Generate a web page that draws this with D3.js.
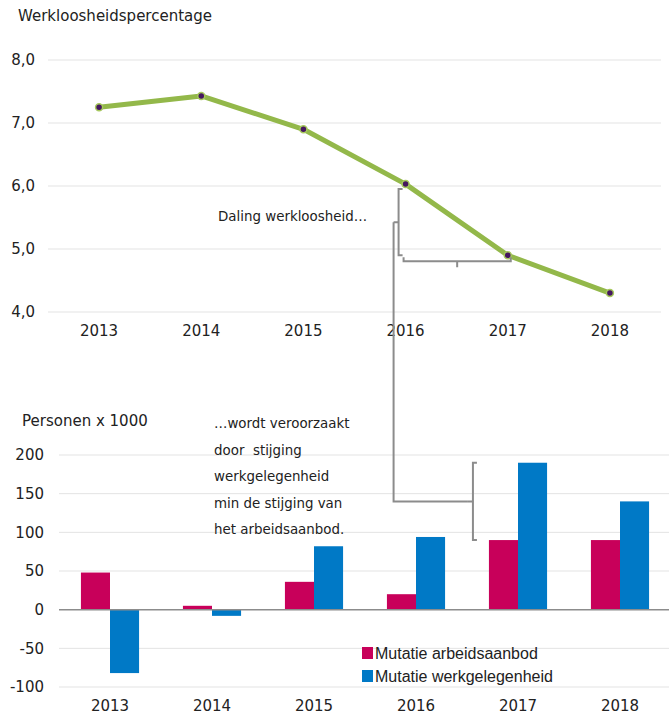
<!DOCTYPE html>
<html>
<head>
<meta charset="utf-8">
<script src="https://cdn.jsdelivr.net/npm/d3@7"></script>
<style>
  body { margin: 0; background: #fff; }
  svg { display: block; font-family: "DejaVu Sans", sans-serif; }
</style>
</head>
<body>
<svg id="chart" width="669" height="717"></svg>
<script>
// data
const years = ["2013", "2014", "2015", "2016", "2017", "2018"];
const werkloosheid = [7.25, 7.43, 6.9, 6.03, 4.9, 4.3];
const arbeidsaanbod = [48, 5, 36, 20, 90, 90];
const werkgelegenheid = [-82, -8, 82, 94, 190, 140];
const topTicks = [4, 5, 6, 7, 8];
const bottomTicks = [-100, -50, 0, 50, 100, 150, 200];
const seriesNames = ["Mutatie arbeidsaanbod", "Mutatie werkgelegenheid"];
const seriesColors = ["#c8005a", "#0079c6"];

const svg = d3.select("#chart");
const comma = d3.format(".1f");

// ---- top: werkloosheidspercentage
const xTop = d3.scaleBand().domain(years).range([48, 661]);
const yTop = d3.scaleLinear().domain([4, 8]).range([312, 60]);
const cx = d => xTop(d) + xTop.bandwidth() / 2;

svg.append("text").attr("x", 18).attr("y", 21)
  .attr("font-size", 15).attr("fill", "#222").text("Werkloosheidspercentage");

const gTop = svg.append("g");
gTop.selectAll("line.grid").data(topTicks).join("line")
  .attr("x1", 48).attr("x2", 661)
  .attr("y1", d => yTop(d)).attr("y2", d => yTop(d))
  .attr("stroke", "#e3e3e3").attr("stroke-width", 1);
gTop.selectAll("text.ytick").data(topTicks).join("text")
  .attr("x", 35).attr("y", d => yTop(d)).attr("dy", "0.35em")
  .attr("text-anchor", "end").attr("font-size", 15).attr("fill", "#222")
  .text(d => comma(d).replace(".", ","));
gTop.selectAll("text.xtick").data(years).join("text")
  .attr("x", cx).attr("y", 336)
  .attr("text-anchor", "middle").attr("font-size", 15).attr("fill", "#222")
  .text(d => d);

const pts = years.map((y, i) => [cx(y), yTop(werkloosheid[i])]);
gTop.append("path").attr("d", d3.line()(pts))
  .attr("fill", "none").attr("stroke", "#93b84a").attr("stroke-width", 5)
  .attr("stroke-linejoin", "round");
gTop.selectAll("circle").data(pts).join("circle")
  .attr("cx", d => d[0]).attr("cy", d => d[1]).attr("r", 3.5)
  .attr("fill", "#45175f").attr("stroke", "#a7c95e").attr("stroke-width", 1.5);

// ---- bottom: mutaties
const xBot = d3.scaleBand().domain(years).range([59, 671]).paddingInner(0.43).paddingOuter(0.215);
const x1 = d3.scaleBand().domain([0, 1]).range([0, xBot.bandwidth()]);
const yBot = d3.scaleLinear().domain([-100, 200]).range([687, 455]);

svg.append("text").attr("x", 22).attr("y", 426)
  .attr("font-size", 15).attr("fill", "#222").text("Personen x 1000");

const gBot = svg.append("g");
gBot.selectAll("line.grid").data(bottomTicks.filter(d => d !== 0)).join("line")
  .attr("x1", 59).attr("x2", 669)
  .attr("y1", d => yBot(d)).attr("y2", d => yBot(d))
  .attr("stroke", "#e3e3e3").attr("stroke-width", 1);
gBot.selectAll("text.ytick").data(bottomTicks).join("text")
  .attr("x", 44).attr("y", d => yBot(d)).attr("dy", "0.35em")
  .attr("text-anchor", "end").attr("font-size", 15).attr("fill", "#222")
  .text(d => d);

const rows = years.map((y, i) => ({ year: y, vals: [arbeidsaanbod[i], werkgelegenheid[i]] }));
gBot.selectAll("g.yr").data(rows).join("g")
  .attr("transform", d => `translate(${xBot(d.year)},0)`)
  .selectAll("rect").data(d => d.vals.map((v, k) => ({ v, k }))).join("rect")
  .attr("x", d => x1(d.k)).attr("width", x1.bandwidth())
  .attr("y", d => yBot(Math.max(0, d.v)))
  .attr("height", d => Math.abs(yBot(d.v) - yBot(0)))
  .attr("fill", d => seriesColors[d.k]);

gBot.append("line").attr("x1", 59).attr("x2", 669)
  .attr("y1", yBot(0)).attr("y2", yBot(0))
  .attr("stroke", "#8c8c8c").attr("stroke-width", 1.5);

gBot.selectAll("text.xtick").data(years).join("text")
  .attr("x", d => xBot(d) + xBot.bandwidth() / 2).attr("y", 711)
  .attr("text-anchor", "middle").attr("font-size", 15).attr("fill", "#222")
  .text(d => d);

// legend
const leg = svg.append("g").attr("transform", "translate(362,647)");
seriesNames.forEach((name, i) => {
  leg.append("rect").attr("x", 0).attr("y", i * 23).attr("width", 11).attr("height", 12)
    .attr("fill", seriesColors[i]);
  leg.append("text").attr("x", 13).attr("y", i * 23 + 12)
    .attr("font-family", "Liberation Sans, sans-serif")
    .attr("font-size", 16).attr("fill", "#222").text(name);
});

// ---- annotations
const note = svg.append("g").attr("fill", "none").attr("stroke", "#8c8c8c").attr("stroke-width", 2);
const vx = cx("2016") - 7, vTop = yTop(werkloosheid[3]) + 5, vBot = yTop(werkloosheid[4]);
const vMid = (vTop + vBot) / 2;
note.append("path").attr("d",
  `M${vx + 4},${vTop}H${vx}V${vBot}H${vx + 4}M${vx},${vMid}H${vx - 5}`);
// horizontal bracket under the drop
const hy = yTop(werkloosheid[4]) + 6, hx0 = cx("2016") - 2, hx1 = cx("2017") + 3;
const hMid = (hx0 + hx1) / 2;
note.append("path").attr("d",
  `M${hx0},${hy - 4}V${hy}H${hx1}V${hy - 4}M${hMid},${hy}V${hy + 6}`);
// bracket in bottom chart
const bx = xBot("2017") - 16, bTop = yBot(werkgelegenheid[4]), bBot = yBot(arbeidsaanbod[4]);
const bMid = (bTop + bBot) / 2;
note.append("path").attr("d",
  `M${bx + 4},${bTop}H${bx}V${bBot}H${bx + 4}M${bx},${bMid}H${bx - 5}`);
// connector
note.append("path").attr("d", `M${vx - 5},${vMid}V${bMid}H${bx - 5}`);

svg.append("text").attr("x", 218).attr("y", 221)
  .attr("font-size", 13.4).attr("fill", "#222").text("Daling werkloosheid…");

const noteLines = ["…wordt veroorzaakt", "door  stijging", "werkgelegenheid", "min de stijging van", "het arbeidsaanbod."];
svg.append("g").selectAll("text").data(noteLines).join("text")
  .attr("x", 214).attr("y", (d, i) => 428 + i * 26.5)
  .attr("font-size", 13.4).attr("fill", "#222").attr("xml:space", "preserve")
  .style("white-space", "pre")
  .text(d => d);
</script>
</body>
</html>
